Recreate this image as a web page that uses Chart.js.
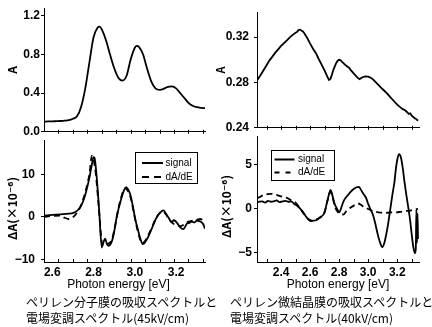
<!DOCTYPE html>
<html><head><meta charset="utf-8">
<script src="https://cdn.jsdelivr.net/npm/chart.js@4.4.1/dist/chart.umd.min.js"></script>
<style>
html,body{margin:0;padding:0;background:#fff;width:432px;height:327px;overflow:hidden;position:relative;}
canvas{position:absolute;}
.cap{position:absolute;font-family:'Noto Sans CJK JP',sans-serif;font-size:12px;line-height:16px;color:#000;white-space:nowrap;}
</style></head><body>
<canvas id="tl" width="216" height="140" style="left:0;top:0"></canvas>
<canvas id="tr" width="222" height="140" style="left:210px;top:0"></canvas>
<canvas id="bl" width="216" height="165" style="left:0;top:127px"></canvas>
<canvas id="br" width="222" height="165" style="left:210px;top:127px"></canvas>
<div class="cap" style="left:26px;top:294px">ペリレン分子膜の吸収スペクトルと<br>電場変調スペクトル(45kV/cm)</div>
<div class="cap" style="left:230px;top:294px">ペリレン微結晶膜の吸収スペクトルと<br>電場変調スペクトル(40kV/cm)</div>
<script>
// ---------- data ----------
const seriesNames = ['signal', 'dA/dE'];
const xAxisTitle = 'Photon energy [eV]';
const absTitle = 'A';
const dAbsTitle = 'ΔA(×10⁻⁶)';

const leftXTicks = [2.6, 2.8, 3.0, 3.2];
const leftXLabels = ['2.6', '2.8', '3.0', '3.2'];
const leftMinorTicks = [2.63, 2.70, 2.77, 2.84, 2.91, 2.98, 3.05, 3.12, 3.19, 3.26, 3.33];
const rightXTicks = [2.4, 2.6, 2.8, 3.0, 3.2];
const rightXLabels = ['2.4', '2.6', '2.8', '3.0', '3.2'];
const rightMinorTicks = [2.3, 2.4, 2.5, 2.6, 2.7, 2.8, 2.9, 3.0, 3.1, 3.2, 3.3];

const tlYTicks = [0, 0.4, 0.8, 1.2];
const tlYLabels = ['0.0', '0.4', '0.8', '1.2'];
const trYTicks = [0.24, 0.28, 0.32];
const trYLabels = ['0.24', '0.28', '0.32'];
const blYTicks = [-10, 0, 10];
const blYLabels = ['−10', '0', '10'];
const brYTicks = [-5, 0, 5];
const brYLabels = ['−5', '0', '5'];

// perylene molecular film: absorption
const tlEnergy = [2.56,2.58,2.60,2.62,2.64,2.66,2.68,2.70,2.72,2.74,2.76,2.78,2.80,2.82,2.83,2.84,2.86,2.88,2.90,2.92,2.94,2.96,2.98,3.00,3.01,3.02,3.04,3.06,3.08,3.10,3.12,3.14,3.16,3.18,3.20,3.22,3.24,3.26,3.28,3.30,3.32,3.34];
const tlAbs = [0.105,0.107,0.108,0.110,0.112,0.115,0.120,0.135,0.16,0.26,0.45,0.72,0.98,1.08,1.09,1.06,0.95,0.80,0.66,0.56,0.53,0.58,0.75,0.87,0.89,0.88,0.80,0.65,0.52,0.45,0.435,0.445,0.465,0.47,0.45,0.40,0.35,0.30,0.27,0.255,0.248,0.245];

// perylene molecular film: electroabsorption
const blSignalEnergy = [2.56,2.60,2.64,2.68,2.70,2.72,2.74,2.76,2.78,2.79,2.80,2.805,2.815,2.827,2.84,2.848,2.856,2.864,2.872,2.889,2.90,2.913,2.925,2.937,2.948,2.958,2.967,2.977,2.99,3.002,3.015,3.026,3.039,3.052,3.066,3.08,3.098,3.11,3.122,3.139,3.15,3.163,3.179,3.187,3.195,3.207,3.219,3.235,3.244,3.252,3.264,3.276,3.288,3.30,3.312,3.324,3.332,3.34];
const blSignal = [0.3,0.45,0.6,0.75,0.9,1.4,2.6,5.2,9.2,11.8,14.0,13.8,9.5,1.7,-7.2,-6.0,-5.1,-6.2,-6.8,-5.7,-3.5,0.2,2.6,4.7,6.3,7.0,6.5,5.4,2.6,-0.5,-3.0,-5.0,-6.4,-5.8,-4.6,-3.0,-0.9,0.2,0.95,1.5,0.8,-0.15,-1.3,-0.8,-0.9,-1.6,-2.4,-2.9,-2.3,-1.6,-1.4,-1.1,-1.3,-0.9,-1.0,-1.3,-1.8,-2.8];
const blDerivEnergy = [2.56,2.60,2.64,2.66,2.68,2.70,2.72,2.74,2.76,2.78,2.792,2.80,2.81,2.825,2.84,2.848,2.86,2.875,2.89,2.905,2.92,2.935,2.953,2.965,2.98,2.995,3.01,3.025,3.034,3.05,3.065,3.08,3.10,3.12,3.135,3.15,3.165,3.187,3.205,3.22,3.235,3.25,3.27,3.29,3.305,3.316,3.328,3.34];
const blDeriv = [0.0,0.2,0.3,-0.2,-0.5,-0.1,1.0,2.8,5.8,10.0,14.3,13.5,10.5,2.5,-6.0,-6.8,-6.5,-6.2,-5.2,-2.0,1.8,4.8,6.7,6.2,4.5,1.0,-2.5,-5.2,-6.2,-5.6,-4.3,-2.8,-0.6,0.9,1.3,0.6,-0.5,-1.6,-1.9,-2.2,-1.9,-1.3,-1.0,-0.8,-0.6,-0.5,-0.7,-1.0];

// perylene microcrystalline film: absorption
const trEnergy = [2.236,2.26,2.28,2.30,2.32,2.34,2.36,2.38,2.40,2.42,2.44,2.46,2.48,2.50,2.51,2.52,2.53,2.54,2.55,2.56,2.58,2.60,2.62,2.64,2.66,2.68,2.70,2.71,2.72,2.73,2.74,2.75,2.76,2.78,2.79,2.80,2.81,2.82,2.84,2.86,2.87,2.88,2.90,2.92,2.93,2.94,2.95,2.96,2.98,3.00,3.02,3.04,3.06,3.08,3.10,3.12,3.14,3.16,3.18,3.20,3.22,3.24,3.25,3.26,3.28,3.29,3.30,3.32,3.33,3.343];
const trAbs = [0.2822,0.2868,0.2910,0.2952,0.2995,0.3028,0.3063,0.3092,0.3122,0.3148,0.3172,0.3198,0.3220,0.3238,0.3246,0.3262,0.3266,0.3259,0.3250,0.3234,0.3192,0.3143,0.3098,0.3058,0.3005,0.2955,0.2905,0.2876,0.2848,0.2822,0.2832,0.2868,0.2912,0.2972,0.2992,0.3000,0.2996,0.2982,0.2958,0.2936,0.2928,0.2908,0.2880,0.2852,0.2838,0.2830,0.2838,0.2846,0.2854,0.2852,0.2840,0.2818,0.2792,0.2766,0.2740,0.2716,0.2688,0.2660,0.2632,0.2604,0.2582,0.2562,0.2558,0.2548,0.2522,0.2528,0.2506,0.2484,0.2478,0.2462];

// perylene microcrystalline film: electroabsorption
const brSignalEnergy = [2.237,2.25,2.27,2.29,2.31,2.33,2.35,2.37,2.39,2.41,2.43,2.45,2.47,2.49,2.51,2.53,2.55,2.57,2.59,2.607,2.62,2.64,2.664,2.68,2.699,2.715,2.73,2.74,2.75,2.765,2.78,2.79,2.802,2.815,2.83,2.845,2.86,2.88,2.90,2.92,2.936,2.95,2.965,2.986,3.00,3.015,3.032,3.05,3.065,3.08,3.097,3.11,3.125,3.137,3.147,3.16,3.17,3.181,3.19,3.20,3.212,3.225,3.238,3.25,3.265,3.28,3.29,3.30,3.31,3.322,3.328,3.332,3.336,3.34,3.343];
const brSignal = [0.7,0.75,0.8,0.65,0.85,0.75,0.8,0.9,0.7,0.8,0.85,0.75,0.8,0.5,0.3,0.0,-0.4,-0.9,-1.3,-1.45,-1.4,-1.35,-1.1,-0.9,-0.5,0.6,1.6,2.1,1.7,0.7,0.1,-0.2,-0.45,0.1,0.8,1.2,1.5,1.9,2.2,2.4,2.45,2.1,1.7,1.15,0.5,-0.1,-0.7,-1.8,-2.9,-3.8,-4.4,-4.0,-2.9,-1.8,-0.7,0.8,1.9,3.0,4.4,5.5,6.15,5.8,4.6,3.0,1.3,-0.33,-1.5,-3.0,-4.3,-5.1,-4.6,-0.1,-3.9,-0.6,-3.5];
const brDerivEnergy = [2.237,2.26,2.28,2.30,2.33,2.36,2.40,2.446,2.47,2.503,2.53,2.56,2.59,2.61,2.64,2.67,2.70,2.72,2.74,2.755,2.77,2.79,2.81,2.83,2.85,2.88,2.91,2.93,2.95,2.97,2.99,3.01,3.04,3.07,3.10,3.13,3.16,3.19,3.22,3.26,3.29,3.32,3.343];
const brDeriv = [1.15,1.35,1.55,1.6,1.65,1.55,1.35,1.15,0.9,0.6,0.0,-0.7,-1.25,-1.4,-1.3,-1.0,-0.4,0.9,1.9,1.3,0.2,-0.4,-0.65,-0.7,-0.3,0.1,0.4,0.55,0.4,0.15,0.0,-0.15,-0.35,-0.45,-0.5,-0.5,-0.45,-0.45,-0.4,-0.3,-0.25,-0.15,-0.05];

// ---------- helpers ----------
const pts = (xs, ys) => xs.map((x, i) => ({x: x, y: ys[i]}));
const SANS = "'Liberation Sans', Arial, sans-serif";
const CJK = "'Noto Sans CJK JP', 'DejaVu Sans', sans-serif";
const tickFont = {family: SANS, size: 12, weight: 'bold'};

const innerTicks = {
  id: 'innerTicks',
  afterDraw(chart, args, o) {
    if (!o.values) return;
    const xs = chart.scales.x, ctx = chart.ctx, b = chart.chartArea.bottom;
    ctx.save();
    ctx.strokeStyle = '#000'; ctx.lineWidth = 1;
    o.values.forEach(v => {
      const px = Math.round(xs.getPixelForValue(v)) + 0.5;
      ctx.beginPath(); ctx.moveTo(px, b + o.down); ctx.lineTo(px, b - o.up); ctx.stroke();
    });
    ctx.restore();
  }
};

const boxLegend = {
  id: 'boxLegend',
  afterDraw(chart, args, o) {
    if (!o.show) return;
    const ctx = chart.ctx, ca = chart.chartArea;
    const x0 = Math.round(ca.right - o.right - o.width), y0 = Math.round(ca.top + o.top);
    ctx.save();
    ctx.strokeStyle = '#000'; ctx.lineWidth = 1;
    ctx.strokeRect(x0 + 0.5, y0 + 0.5, o.width, o.height);
    chart.data.datasets.forEach((ds, i) => {
      const y = y0 + o.rowStart + i * o.rowGap;
      ctx.lineWidth = 2;
      ctx.setLineDash(ds.borderDash && ds.borderDash.length ? o.dash : []);
      ctx.beginPath(); ctx.moveTo(x0 + o.lineX, y); ctx.lineTo(x0 + o.lineX + o.lineLen, y); ctx.stroke();
      ctx.setLineDash([]);
      ctx.font = o.font; ctx.fillStyle = '#000'; ctx.textBaseline = 'middle'; ctx.textAlign = 'left';
      ctx.fillText(ds.label, x0 + o.textX, y);
    });
    ctx.restore();
  }
};

function yAxis(min, max, ticks, labels, width, pad, title) {
  return {
    type: 'linear', position: 'left', min: min, max: max,
    afterBuildTicks: s => { s.ticks = ticks.map(v => ({value: v})); },
    afterFit: s => { s.width = width; },
    border: {display: true, color: '#000', width: 1},
    grid: {display: true, drawOnChartArea: false, drawTicks: true, tickLength: 3, color: '#000', tickColor: '#000'},
    ticks: {font: tickFont, color: '#000', padding: pad, callback: (v, i) => labels[i]},
    title: title
  };
}
function xAxis(min, max, ticks, labels, height, showLabels, title) {
  return {
    type: 'linear', position: 'bottom', min: min, max: max,
    afterBuildTicks: s => { s.ticks = ticks.map(v => ({value: v})); },
    afterFit: s => { s.height = height; },
    border: {display: true, color: '#000', width: 1},
    grid: {display: false, drawTicks: false},
    ticks: {display: showLabels, font: tickFont, color: '#000', padding: 3, maxRotation: 0, autoSkip: false, callback: (v, i) => labels[i]},
    title: title || {display: false}
  };
}
function lineDs(label, data, dashed, smooth) {
  return {
    label: label, data: data, borderColor: '#000', borderWidth: 1.8,
    borderDash: dashed ? [6, 4] : [], pointRadius: 0, fill: false,
    cubicInterpolationMode: smooth ? 'monotone' : 'default', tension: 0
  };
}
function make(id, datasets, scales, padding, tickOpts, legendOpts) {
  return new Chart(document.getElementById(id), {
    type: 'line',
    data: {datasets: datasets},
    options: {
      responsive: false, animation: false, devicePixelRatio: 1,
      layout: {padding: padding},
      scales: scales,
      plugins: {legend: {display: false}, tooltip: {enabled: false},
        innerTicks: tickOpts, boxLegend: legendOpts || {show: false}}
    },
    plugins: [innerTicks, boxLegend]
  });
}
const xTitle = (shift) => ({display: true, text: xAxisTitle + shift, color: '#000', font: {family: SANS, size: 12}, padding: {top: 0, bottom: 0}});
const yTitle = (text, pt, size, weight) => ({display: true, text: text, color: '#000', font: {family: CJK, size: size, weight: weight}, padding: {top: pt, bottom: 0}});

// ---------- charts ----------
make('tl',
  [lineDs(absTitle, pts(tlEnergy, tlAbs), false, true)],
  {x: xAxis(2.56, 3.34, leftXTicks, leftXLabels, 7, false),
   y: yAxis(0, 1.28, tlYTicks, tlYLabels, 44, 1, yTitle(absTitle, 5, 12, 'bold'))},
  {top: 7, right: 11, left: 0, bottom: 0},
  {values: leftMinorTicks, up: 2, down: 2});

make('tr',
  [lineDs(absTitle, pts(trEnergy, trAbs), false, false)],
  {x: xAxis(2.234, 3.35, rightXTicks, rightXLabels, 7, false),
   y: yAxis(0.24, 0.342, trYTicks, trYLabels, 47, 5, yTitle(absTitle, 4.5, 11, 'bold'))},
  {top: 5, right: 13, left: 0, bottom: 0},
  {values: rightMinorTicks, up: 2, down: 2});

make('bl',
  [lineDs(seriesNames[0], pts(blSignalEnergy, blSignal), false, true),
   lineDs(seriesNames[1], pts(blDerivEnergy, blDeriv), true, true)],
  {x: xAxis(2.56, 3.34, leftXTicks, leftXLabels, 30, true, xTitle('\u2002\u2002')),
   y: yAxis(-10.6, 18, blYTicks, blYLabels, 44, 6, yTitle(dAbsTitle + '\u2003 ', 5, 12, 'bold'))},
  {top: 6, right: 11, left: 0, bottom: 0},
  {values: leftMinorTicks, up: 3, down: 0},
  {show: true, right: 8.5, top: 12, width: 62, height: 31, lineX: 7, lineLen: 21, textX: 30.5, rowStart: 11, rowGap: 14, dash: [7, 5], font: '10px ' + SANS});

make('br',
  [lineDs(seriesNames[0], pts(brSignalEnergy, brSignal), false, true),
   lineDs(seriesNames[1], pts(brDerivEnergy, brDeriv), true, true)],
  {x: xAxis(2.234, 3.35, rightXTicks, rightXLabels, 30, true, xTitle('')),
   y: yAxis(-6.1, 8.2, brYTicks, brYLabels, 47, 2, yTitle(dAbsTitle + '\u2003 ', 9, 12, 'bold'))},
  {top: 6, right: 13, left: 0, bottom: 0},
  {values: rightMinorTicks, up: 3, down: 0},
  {show: true, right: 85, top: 13.5, width: 63, height: 30, lineX: 3.5, lineLen: 20, textX: 27, rowStart: 9.5, rowGap: 13, dash: [5, 6], font: '10px ' + SANS});
</script>
</body></html>
